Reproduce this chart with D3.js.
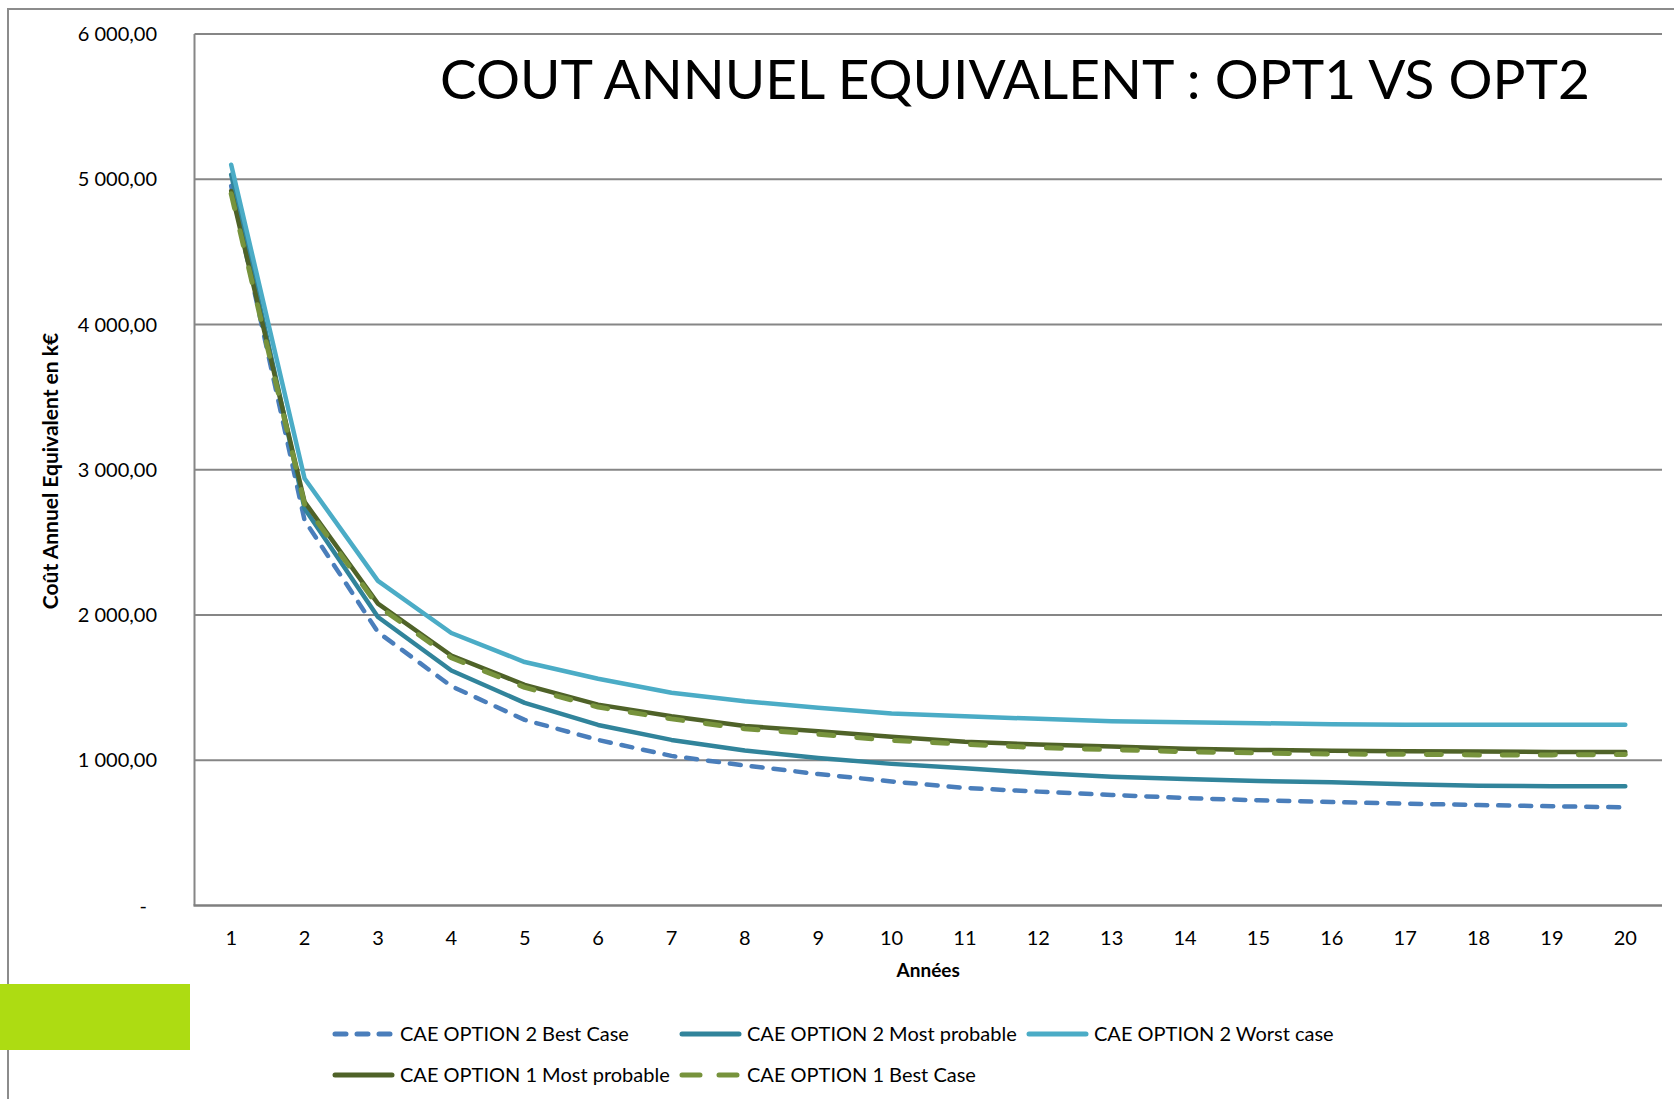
<!DOCTYPE html>
<html>
<head>
<meta charset="utf-8" />
<title>Cout annuel equivalent</title>
<style>
  body { margin: 0; background: #fff; }
  text { font-family: Lato, "Open Sans", sans-serif; fill: #000; }
</style>
</head>
<body>
<script src="https://cdnjs.cloudflare.com/ajax/libs/d3/7.8.5/d3.min.js"></script>
<script>
var years = d3.range(1, 21);

var opt2Best   = [4954, 2652, 1882, 1510, 1278, 1140, 1030, 964, 905, 854, 809, 784, 761, 740, 724, 712, 701, 692, 683, 676];
var opt2Most   = [5032, 2733, 1986, 1618, 1395, 1243, 1140, 1067, 1016, 975, 945, 912, 887, 871, 857, 848, 834, 825, 821, 821];
var opt2Worst  = [5100, 2940, 2235, 1876, 1676, 1561, 1465, 1406, 1361, 1322, 1303, 1285, 1269, 1262, 1255, 1248, 1245, 1245, 1245, 1245];
var opt1Most   = [4919, 2779, 2078, 1721, 1519, 1383, 1303, 1236, 1199, 1161, 1128, 1108, 1094, 1080, 1071, 1066, 1062, 1060, 1057, 1057];
var opt1Best   = [4900, 2762, 2062, 1706, 1502, 1366, 1285, 1217, 1179, 1137, 1110, 1087, 1073, 1059, 1050, 1043, 1041, 1037, 1037, 1039];

var yTicks = [0, 1000, 2000, 3000, 4000, 5000, 6000];

var series = [
    { name: 'CAE OPTION 2 Best Case',     values: opt2Best,  color: '#4a7ebb', dash: '11,11', w: 4.5 },
    { name: 'CAE OPTION 2 Most probable', values: opt2Most,  color: '#31849b', dash: null,    w: 4.5 },
    { name: 'CAE OPTION 2 Worst case',    values: opt2Worst, color: '#4bacc6', dash: null,    w: 4.5 },
    { name: 'CAE OPTION 1 Most probable', values: opt1Most,  color: '#4f6228', dash: null,    w: 4.5 },
    { name: 'CAE OPTION 1 Best Case',     values: opt1Best,  color: '#77933c', dash: '15,23', w: 5 }
];

var width = 1674,
    height = 1099;

var plotLeft = 194.5, plotRight = 1662, plotTop = 34, plotBottom = 905.5;

var svg = d3.select('body').append('svg')
    .attr('width', width)
    .attr('height', height);

svg.append('rect').attr('width', width).attr('height', height).attr('fill', '#fff');

// outer frame (only top and left visible)
svg.append('path')
    .attr('d', 'M8,' + height + 'V9H' + width)
    .attr('fill', 'none')
    .attr('stroke', '#8c8c8c')
    .attr('stroke-width', 2);

// green block
svg.append('rect')
    .attr('x', 0).attr('y', 984)
    .attr('width', 190).attr('height', 66)
    .attr('fill', '#addc12');

var x = d3.scaleBand()
    .domain(years)
    .range([plotLeft, plotRight]);

var y = d3.scaleLinear()
    .domain([0, 6000])
    .range([plotBottom, plotTop]);

var fr = d3.formatLocale({ decimal: ',', thousands: '\u00a0', grouping: [3], currency: ['', ''] });
var fmt = fr.format(',.2f');

// gridlines
svg.append('g').selectAll('line')
    .data(yTicks.filter(function(d) { return d > 0; }))
  .enter().append('line')
    .attr('x1', plotLeft).attr('x2', plotRight)
    .attr('y1', function(d) { return y(d); })
    .attr('y2', function(d) { return y(d); })
    .attr('stroke', '#868686')
    .attr('stroke-width', 2);

// axes lines
svg.append('line')
    .attr('x1', plotLeft).attr('x2', plotLeft)
    .attr('y1', plotTop).attr('y2', plotBottom)
    .attr('stroke', '#868686').attr('stroke-width', 2);
svg.append('line')
    .attr('x1', plotLeft - 1).attr('x2', plotRight)
    .attr('y1', plotBottom).attr('y2', plotBottom)
    .attr('stroke', '#7f7f7f').attr('stroke-width', 2.5);

// y labels
svg.append('g').selectAll('text')
    .data(yTicks)
  .enter().append('text')
    .attr('x', function(d) { return d === 0 ? 147 : 157; })
    .attr('y', function(d) { return y(d); })
    .attr('dy', '0.35em')
    .attr('text-anchor', 'end')
    .style('font-size', '20px')
    .text(function(d) { return d === 0 ? '-' : fmt(d); });

// x labels
svg.append('g').selectAll('text')
    .data(years)
  .enter().append('text')
    .attr('x', function(d) { return x(d) + x.bandwidth() / 2; })
    .attr('y', 938)
    .attr('dy', '0.35em')
    .attr('text-anchor', 'middle')
    .style('font-size', '20px')
    .text(function(d) { return d; });

// axis titles
svg.append('text')
    .attr('transform', 'translate(51,471) rotate(-90)')
    .attr('text-anchor', 'middle')
    .attr('dy', '0.35em')
    .style('font-size', '21px')
    .style('font-weight', 'bold')
    .text('Coût Annuel Equivalent en k€');

svg.append('text')
    .attr('x', (plotLeft + plotRight) / 2)
    .attr('y', 970)
    .attr('dy', '0.35em')
    .attr('text-anchor', 'middle')
    .style('font-size', '19px')
    .style('font-weight', 'bold')
    .text('Années');

// title
svg.append('text')
    .attr('x', 1015)
    .attr('y', 99)
    .attr('text-anchor', 'middle')
    .style('font-size', '55px')
    .text('COUT ANNUEL EQUIVALENT : OPT1 VS OPT2');

// lines
var line = d3.line()
    .x(function(d, i) { return x(years[i]) + x.bandwidth() / 2; })
    .y(function(d) { return y(d); });

svg.append('g').selectAll('path')
    .data(series)
  .enter().append('path')
    .attr('d', function(d) { return line(d.values); })
    .attr('fill', 'none')
    .attr('stroke', function(d) { return d.color; })
    .attr('stroke-width', function(d) { return d.w; })
    .attr('stroke-linejoin', 'round')
    .attr('stroke-linecap', 'round')
    .attr('stroke-dasharray', function(d) { return d.dash; });

// legend
var legendPos = [
    { x: 333, y: 1034 }, { x: 680, y: 1034 }, { x: 1027, y: 1034 },
    { x: 333, y: 1075 }, { x: 680, y: 1075 }
];

var leg = svg.append('g').selectAll('g')
    .data(series)
  .enter().append('g')
    .attr('transform', function(d, i) { return 'translate(' + legendPos[i].x + ',' + legendPos[i].y + ')'; });

leg.append('line')
    .attr('x1', 2).attr('x2', 59)
    .attr('stroke', function(d) { return d.color; })
    .attr('stroke-width', 5)
    .attr('stroke-linecap', 'round')
    .attr('stroke-dasharray', function(d) { return d.name === 'CAE OPTION 2 Best Case' ? '11,11' : d.dash ? '18,19' : null; });

leg.append('text')
    .attr('x', 67)
    .attr('dy', '0.35em')
    .style('font-size', '20px')
    .text(function(d) { return d.name; });
</script>
</body>
</html>
